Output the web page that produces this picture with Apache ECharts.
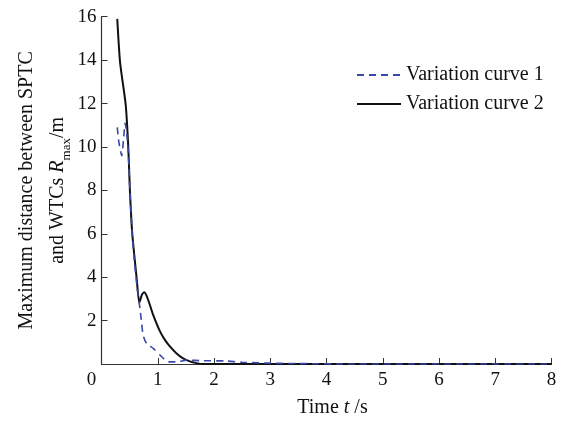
<!DOCTYPE html>
<html>
<head>
<meta charset="utf-8">
<script src="https://cdn.jsdelivr.net/npm/echarts@6/dist/echarts.min.js"></script>
<style>html,body{margin:0;padding:0;background:#fff}#c{width:563px;height:421px}</style>
</head>
<body>
<div id="c"></div>
<script>
var seriesNames = ['Variation curve 1', 'Variation curve 2'];
var xTicks = [0, 1, 2, 3, 4, 5, 6, 7, 8];
var yTicks = [0, 2, 4, 6, 8, 10, 12, 14, 16];

var time1 = [0.28, 0.31, 0.36, 0.39, 0.42, 0.45, 0.48, 0.505, 0.545, 0.59, 0.63, 0.684, 0.714, 0.74, 0.80, 0.92, 1.04, 1.19, 1.34, 1.51, 1.8, 2.2, 2.5, 3.0, 3.5, 4.5, 8.0];
var vals1 = [10.9, 10.2, 9.6, 10.3, 11.1, 10.6, 9.6, 8.0, 6.0, 4.6, 3.6, 2.55, 1.87, 1.33, 0.95, 0.72, 0.41, 0.10, 0.10, 0.18, 0.15, 0.14, 0.08, 0.04, 0.02, 0.0, 0.0];

var time2 = [0.28, 0.33, 0.43, 0.476, 0.505, 0.547, 0.625, 0.672, 0.72, 0.76, 0.80, 0.85, 0.92, 1.04, 1.13, 1.22, 1.33, 1.45, 1.57, 1.69, 1.8, 8.0];
var vals2 = [15.9, 13.9, 11.95, 10.0, 8.0, 6.0, 3.95, 2.82, 3.2, 3.3, 3.15, 2.8, 2.25, 1.5, 1.1, 0.8, 0.5, 0.26, 0.12, 0.04, 0.0, 0.0];

function pairs(xs, ys) { return xs.map(function (x, i) { return [x, ys[i]]; }); }

var FONT = 'Liberation Serif';
var chart = echarts.init(document.getElementById('c'), null, { renderer: 'canvas' });
chart.setOption({
  animation: false,
  backgroundColor: '#fff',
  textStyle: { fontFamily: FONT, color: '#111' },
  grid: { left: 101.5, right: 11.5, top: 16.7, bottom: 57, containLabel: false, outerBoundsMode: 'none' },
  legend: {
    orient: 'vertical', left: 351, top: 60, itemWidth: 44, itemHeight: 14, itemGap: 9,
    itemStyle: { opacity: 0 },
    textStyle: { fontFamily: FONT, fontSize: 20, color: '#111' },
    data: seriesNames
  },
  xAxis: {
    type: 'value', min: xTicks[0], max: xTicks[xTicks.length - 1], interval: 1,
    name: 'Time {i|t} /s', nameLocation: 'middle', nameGap: 34, nameMoveOverlap: false,
    nameTextStyle: { fontFamily: FONT, fontSize: 20, color: '#111', padding: [0, 0, 0, 12],
      rich: { i: { fontFamily: FONT, fontSize: 20, fontStyle: 'italic', color: '#111' } } },
    axisLine: { lineStyle: { color: '#333', width: 1.2 } },
    axisTick: { inside: true, length: 6, lineStyle: { color: '#333' } },
    splitLine: { show: false },
    axisLabel: { fontFamily: FONT, fontSize: 19, color: '#111', margin: 7,
      formatter: function (v) { return v === 0 ? '{z|0}' : String(v); },
      rich: { z: { fontFamily: FONT, fontSize: 19, color: '#111', padding: [0, 20, 0, 0] } } }
  },
  yAxis: {
    type: 'value', min: yTicks[0], max: yTicks[yTicks.length - 1], interval: 2,
    name: 'Maximum distance between SPTC\nand WTCs {i|R}{s|max}/m',
    nameLocation: 'middle', nameRotate: 90, nameGap: 28, nameMoveOverlap: false,
    nameTextStyle: { fontFamily: FONT, fontSize: 20, color: '#111', lineHeight: 31, align: 'center',
      rich: {
        i: { fontFamily: FONT, fontSize: 20, fontStyle: 'italic', color: '#111', lineHeight: 31 },
        s: { fontFamily: FONT, fontSize: 13, color: '#111', verticalAlign: 'bottom', lineHeight: 24 }
      } },
    axisLine: { lineStyle: { color: '#333', width: 1.2 } },
    axisTick: { inside: true, length: 6, lineStyle: { color: '#333' } },
    splitLine: { show: false },
    axisLabel: { fontFamily: FONT, fontSize: 19, color: '#111', margin: 5,
      formatter: function (v) { return v === 0 ? '' : String(v); } }
  },
  series: [
    { name: seriesNames[0], type: 'line', symbol: 'none', smooth: 0.2, z: 3,
      lineStyle: { color: '#3a48a8', width: 1.6, type: [7, 5] }, itemStyle: { color: '#3a48a8' },
      data: pairs(time1, vals1) },
    { name: seriesNames[1], type: 'line', symbol: 'none', smooth: 0.2, z: 2,
      lineStyle: { color: '#111', width: 2 }, itemStyle: { color: '#111' },
      data: pairs(time2, vals2) }
  ]
});
</script>
</body>
</html>
